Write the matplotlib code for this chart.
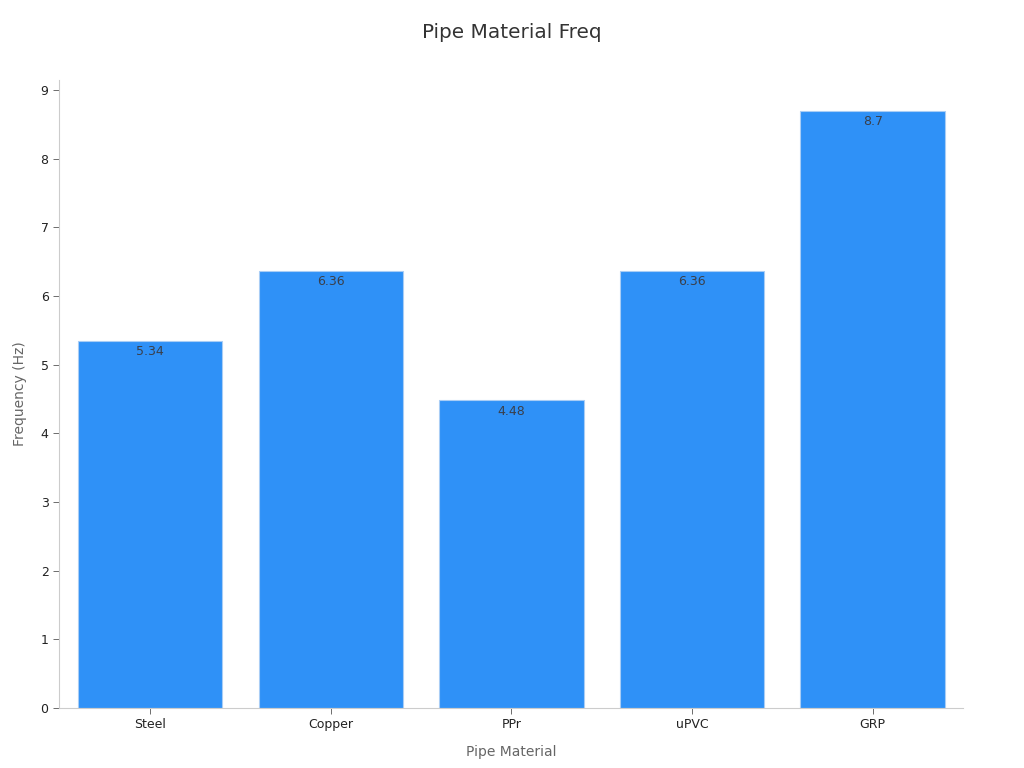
import matplotlib.pyplot as plt

# chart data
materials = ['Steel', 'Copper', 'PPr', 'uPVC', 'GRP']
freq = [5.34, 6.36, 4.48, 6.36, 8.7]
labels = ['5.34', '6.36', '4.48', '6.36', '8.7']

fig = plt.figure(figsize=(10.24, 7.68), dpi=100)
ax = fig.add_axes([0.0576, 0.0781, 0.8828, 0.8177])

bars = ax.bar(range(len(materials)), freq, width=0.8, color='#2f91f7',
              edgecolor='#a9cdf5', linewidth=0.8)

for b, lab in zip(bars, labels):
    ax.text(b.get_x() + b.get_width() / 2, b.get_height() - 0.06, lab,
            ha='center', va='top', fontsize=9, color='#3a3f4a')

ax.set_xlim(-0.505, 4.5)
ax.set_ylim(0, 9.146)
ax.set_xticks(range(len(materials)))
ax.set_xticklabels(materials)
ax.set_yticks(range(10))

for s in ['top', 'right']:
    ax.spines[s].set_visible(False)
for s in ['left', 'bottom']:
    ax.spines[s].set_color('#cccccc')
    ax.spines[s].set_linewidth(0.8)

ax.tick_params(axis='both', labelsize=9, colors='#222222', length=4, width=0.6)
ax.tick_params(axis='both', color='#555555')

ax.set_xlabel('Pipe Material', fontsize=10, color='#666666', labelpad=10)
ax.set_ylabel('Frequency (Hz)', fontsize=10, color='#666666', labelpad=10)
fig.suptitle('Pipe Material Freq', fontsize=14.4, color='#333333', y=0.97)

fig.savefig('out.png', dpi=100)
